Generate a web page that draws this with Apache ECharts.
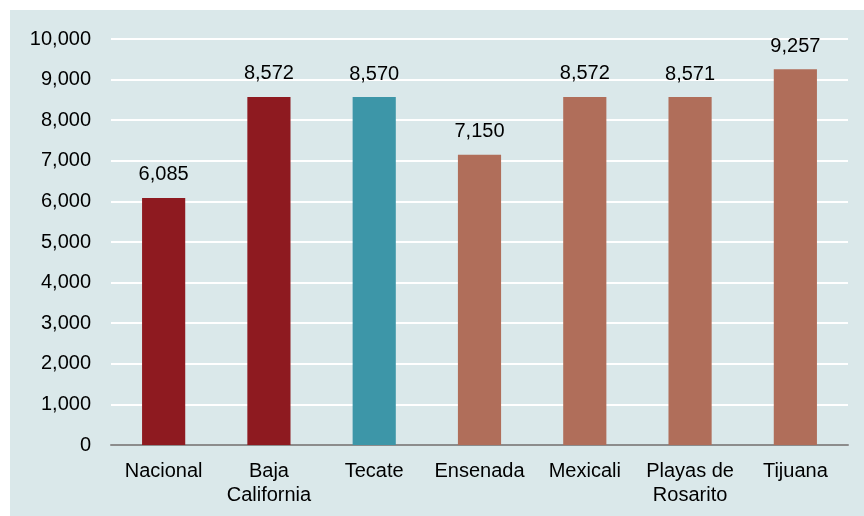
<!DOCTYPE html>
<html>
<head>
<meta charset="utf-8">
<script src="https://cdn.jsdelivr.net/npm/echarts@6/dist/echarts.min.js"></script>
<style>html,body{margin:0;padding:0;background:#fff;}#c{width:864px;height:516px;}</style>
</head>
<body>
<div id="c"></div>
<script>
const categories = ['Nacional', 'Baja\nCalifornia', 'Tecate', 'Ensenada', 'Mexicali', 'Playas de\nRosarito', 'Tijuana'];
const values = [6085, 8572, 8570, 7150, 8572, 8571, 9257];
const barColors = ['#8E1A20', '#8E1A20', '#3D96A8', '#B06E5A', '#B06E5A', '#B06E5A', '#B06E5A'];

const chart = echarts.init(document.getElementById('c'), null, {renderer: 'canvas'});
const font = 'Liberation Sans, Arial, sans-serif';
chart.setOption({
  animation: false,
  graphic: [{
    type: 'rect', z: -10, silent: true,
    shape: {x: 10, y: 10, width: 854, height: 506},
    style: {fill: '#DAE8EA'}
  }],
  grid: {left: 111, right: 16, top: 39, bottom: 71},
  xAxis: {
    type: 'category',
    data: categories,
    axisLine: {lineStyle: {color: '#8C8C8C', width: 2}},
    axisTick: {show: false},
    axisLabel: {color: '#000', fontSize: 20, fontFamily: font, margin: 14, lineHeight: 24, interval: 0}
  },
  yAxis: {
    type: 'value',
    min: 0, max: 10000, interval: 1000,
    axisLine: {show: false},
    axisTick: {show: false},
    splitLine: {lineStyle: {color: '#FFFFFF', width: 2}},
    axisLabel: {color: '#000', fontSize: 20, fontFamily: font, margin: 20,
      formatter: v => v.toLocaleString('en-US')}
  },
  series: [{
    type: 'bar',
    barWidth: '41%',
    data: values.map((v, i) => ({value: v, itemStyle: {color: barColors[i]}})),
    label: {show: true, position: 'top', distance: 13, color: '#000', fontSize: 20, fontFamily: font,
      formatter: p => p.value.toLocaleString('en-US')}
  }]
});
</script>
</body>
</html>
